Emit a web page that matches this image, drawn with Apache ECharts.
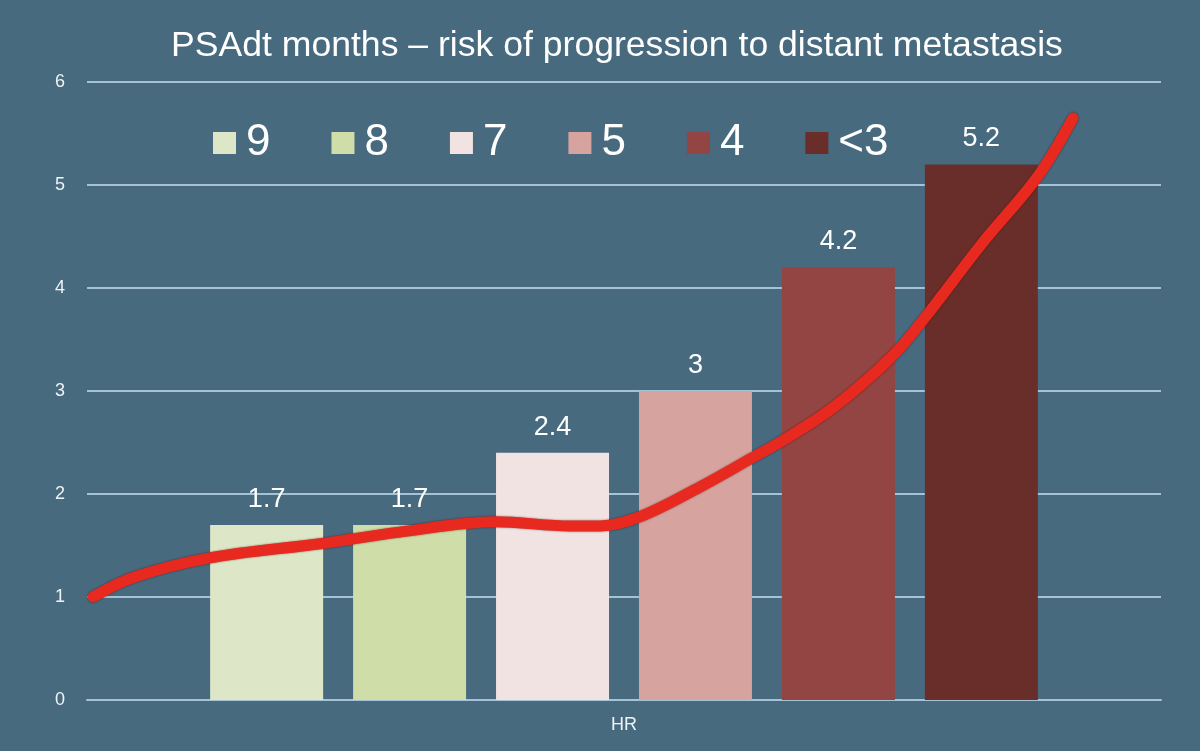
<!DOCTYPE html>
<html><head><meta charset="utf-8">
<script src="https://cdn.jsdelivr.net/npm/echarts@6/dist/echarts.min.js"></script>
<style>html,body{margin:0;padding:0;background:#476a7f;}#c{width:1200px;height:751px;}</style>
</head><body><div id="c"></div>
<script>
const categories = ['HR'];
const seriesNames = ['9', '8', '7', '5', '4', '<3'];
const seriesValues = [1.7, 1.7, 2.4, 3, 4.2, 5.2];
const seriesColors = ['#dde7c7', '#cfdda9', '#f0e3e2', '#d6a39f', '#924542', '#692e29'];
const yTicks = [0, 1, 2, 3, 4, 5, 6];
// hand-drawn trend curve: position across plot (0..1) and value
const curveX = [0.0056, 0.043, 0.1145, 0.219, 0.291, 0.381, 0.45, 0.478, 0.515, 0.571, 0.619, 0.648, 0.695, 0.75, 0.78, 0.834, 0.885, 0.918];
const curveY = [1.0, 1.19, 1.38, 1.52, 1.63, 1.73, 1.69, 1.69, 1.78, 2.07, 2.35, 2.52, 2.84, 3.34, 3.71, 4.44, 5.08, 5.65];

const FONT = 'Liberation Sans, Arial, sans-serif';

const barSeries = seriesNames.map((n, i) => ({
  name: n, type: 'bar', xAxisIndex: 0, yAxisIndex: 0,
  data: [seriesValues[i]],
  barWidth: 113, barGap: '26.5%',
  itemStyle: { color: seriesColors[i] },
  label: { show: true, position: 'top', distance: 12, color: '#ffffff', fontSize: 27, fontFamily: FONT }
}));

const chart = echarts.init(document.getElementById('c'));
chart.setOption({
  backgroundColor: '#476a7f',
  animation: false,
  title: {
    text: 'PSAdt months \u2013 risk of progression to distant metastasis',
    left: 166, top: 23,
    textStyle: { color: '#ffffff', fontSize: 35.6, fontWeight: 'normal', fontFamily: FONT }
  },
  legend: {
    data: seriesNames, top: 116, left: 208,
    itemWidth: 23, itemHeight: 22, itemGap: 61,
    icon: 'rect',
    textStyle: { color: '#ffffff', fontSize: 44, fontFamily: FONT, padding: [0, 0, 0, 5] }
  },
  grid: { left: 87, right: 39, top: 82, bottom: 51 },
  xAxis: [
    { type: 'category', data: categories,
      axisLine: { lineStyle: { color: '#a6c2d6', width: 2 } }, axisTick: { show: false },
      axisLabel: { color: '#eef3f6', fontSize: 18, margin: 16, fontFamily: FONT } },
    { type: 'value', min: 0, max: 1, show: false }
  ],
  yAxis: [
    { type: 'value', min: yTicks[0], max: yTicks[yTicks.length - 1], interval: 1,
      axisLine: { show: false }, axisTick: { show: false },
      splitLine: { lineStyle: { color: '#a6c2d6', width: 2 } },
      axisLabel: { color: '#eef3f6', fontSize: 18, margin: 22, fontFamily: FONT } }
  ],
  series: barSeries.concat([{
    name: 'trend', type: 'line', xAxisIndex: 1, yAxisIndex: 0,
    data: curveX.map((x, i) => [x, curveY[i]]),
    smooth: 0.35, symbol: 'none', z: 10,
    lineStyle: { color: '#e8291f', width: 11, cap: 'round', shadowColor: 'rgba(60,10,10,0.6)', shadowBlur: 2 }
  }])
});
</script></body></html>
